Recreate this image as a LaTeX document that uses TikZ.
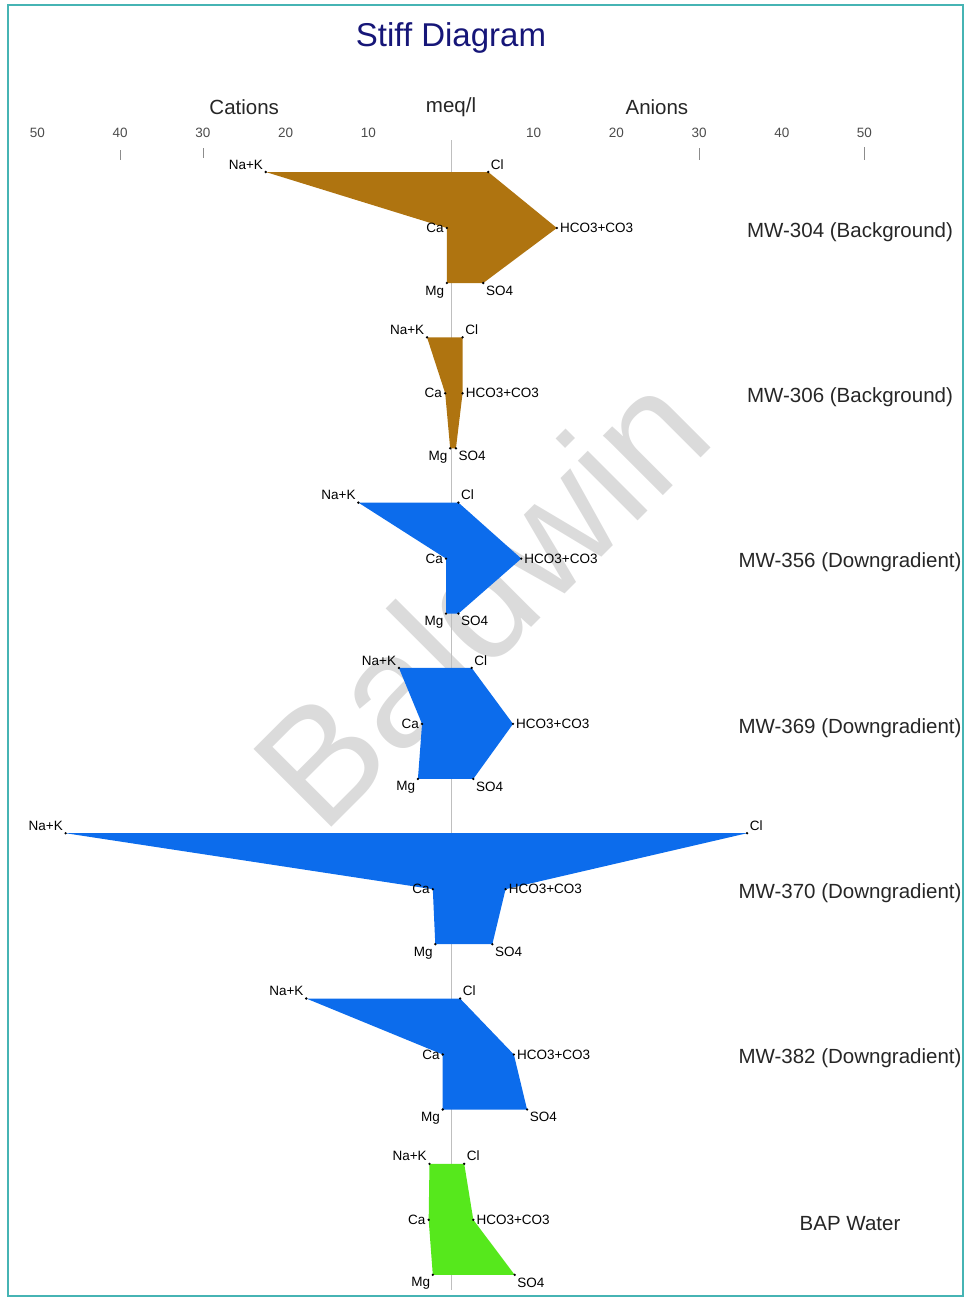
\documentclass[tikz,border=0pt]{standalone}
\usepackage{fontspec}
\setmainfont{Liberation Sans}
\definecolor{brownfill}{RGB}{175,116,16}
\definecolor{bluefill}{RGB}{12,108,236}
\definecolor{greenfill}{RGB}{86,232,28}
\definecolor{framecol}{RGB}{70,180,180}
\definecolor{titlecol}{RGB}{22,22,120}
\begin{document}
\begin{tikzpicture}[x=8.27pt,y=-1pt,
  dot/.style={circle,fill=black,inner sep=0pt,minimum size=2.6pt},
  ion/.style={font=\fontsize{13.5}{15}\selectfont,inner sep=1.5pt,text=black},
  well/.style={font=\fontsize{20.5}{24}\selectfont,text=black!85},
  scalelbl/.style={font=\fontsize{13.5}{15}\selectfont,text=black!70}]
\useasboundingbox (-54.534,0) rectangle (62.273,1299);
\draw[framecol,line width=1.5pt] (-53.57,5) rectangle (61.9,1296);

% watermark and axis
\node[rotate=45,text=black!14,font=\fontsize{160}{160}\selectfont] (wm) at (3.5,598) {Baldwin};
\draw[black!25] (0,140) -- (0,1290);
\node[font=\fontsize{33}{36}\selectfont,text=titlecol] (title) at (0,38) {Stiff Diagram};
\node[well] (cat) at (-25,107) {Cations};
\node[well] (meq) at (0,107) {meq/l};
\node[well] (an) at (24.9,107) {Anions};
\foreach \v in {10,20,30,40,50} {
  \node[scalelbl] (l\v) at (-\v,133) {\v};
  \node[scalelbl] (r\v) at (\v,133) {\v};
}
\draw[black!45] (-40,150) -- (-40,160) (-30,148) -- (-30,158)
  (30,148) -- (30,160) (50,147) -- (50,160);

% MW-304
\begin{scope}[shift={(0,172)}]
\fill[brownfill] (-22.4,0) node[dot,label={[ion]above left:Na+K}] (nak1) {}
  -- (4.5,0) node[dot,label={[ion]above right:Cl}] (cl1) {}
  -- (12.8,56) node[dot,label={[ion]right:HCO3+CO3}] (hco1) {}
  -- (3.9,111) node[dot,label={[ion]below right:SO4}] (so1) {}
  -- (-0.5,111) node[dot,label={[ion]below left:Mg}] (mg1) {}
  -- (-0.5,56) node[dot,label={[ion]left:Ca}] (ca1) {} -- cycle;
\node[well] (w1) at (48.25,60) {MW-304 (Background)};
\end{scope}

% MW-306
\begin{scope}[shift={(0,337.3)}]
\fill[brownfill] (-2.9,0) node[dot,label={[ion]above left:Na+K}] (nak2) {}
  -- (1.4,0) node[dot,label={[ion]above right:Cl}] (cl2) {}
  -- (1.4,56) node[dot,label={[ion]right:HCO3+CO3}] (hco2) {}
  -- (0.6,111) node[dot,label={[ion]below right:SO4}] (so2) {}
  -- (-0.1,111) node[dot,label={[ion]below left:Mg}] (mg2) {}
  -- (-0.7,56) node[dot,label={[ion]left:Ca}] (ca2) {} -- cycle;
\node[well] (w2) at (48.25,60) {MW-306 (Background)};
\end{scope}

% MW-356
\begin{scope}[shift={(0,502.6)}]
\fill[bluefill] (-11.2,0) node[dot,label={[ion]above left:Na+K}] (nak3) {}
  -- (0.9,0) node[dot,label={[ion]above right:Cl}] (cl3) {}
  -- (8.5,56) node[dot,label={[ion]right:HCO3+CO3}] (hco3) {}
  -- (0.9,111) node[dot,label={[ion]below right:SO4}] (so3) {}
  -- (-0.6,111) node[dot,label={[ion]below left:Mg}] (mg3) {}
  -- (-0.6,56) node[dot,label={[ion]left:Ca}] (ca3) {} -- cycle;
\node[well] (w3) at (48.25,60) {MW-356 (Downgradient)};
\end{scope}

% MW-369
\begin{scope}[shift={(0,667.9)}]
\fill[bluefill] (-6.3,0) node[dot,label={[ion]above left:Na+K}] (nak4) {}
  -- (2.5,0) node[dot,label={[ion]above right:Cl}] (cl4) {}
  -- (7.5,56) node[dot,label={[ion]right:HCO3+CO3}] (hco4) {}
  -- (2.7,111) node[dot,label={[ion]below right:SO4}] (so4) {}
  -- (-4.0,111) node[dot,label={[ion]below left:Mg}] (mg4) {}
  -- (-3.5,56) node[dot,label={[ion]left:Ca}] (ca4) {} -- cycle;
\node[well] (w4) at (48.25,60) {MW-369 (Downgradient)};
\end{scope}

% MW-370
\begin{scope}[shift={(0,833.2)}]
\fill[bluefill] (-46.6,0) node[dot,label={[ion]above left:Na+K}] (nak5) {}
  -- (35.8,0) node[dot,label={[ion]above right:Cl}] (cl5) {}
  -- (6.6,56) node[dot,label={[ion]right:HCO3+CO3}] (hco5) {}
  -- (5.0,111) node[dot,label={[ion]below right:SO4}] (so5) {}
  -- (-1.9,111) node[dot,label={[ion]below left:Mg}] (mg5) {}
  -- (-2.2,56) node[dot,label={[ion]left:Ca}] (ca5) {} -- cycle;
\node[well] (w5) at (48.25,60) {MW-370 (Downgradient)};
\end{scope}

% MW-382
\begin{scope}[shift={(0,998.5)}]
\fill[bluefill] (-17.5,0) node[dot,label={[ion]above left:Na+K}] (nak6) {}
  -- (1.1,0) node[dot,label={[ion]above right:Cl}] (cl6) {}
  -- (7.6,56) node[dot,label={[ion]right:HCO3+CO3}] (hco6) {}
  -- (9.2,111) node[dot,label={[ion]below right:SO4}] (so6) {}
  -- (-1.0,111) node[dot,label={[ion]below left:Mg}] (mg6) {}
  -- (-1.0,56) node[dot,label={[ion]left:Ca}] (ca6) {} -- cycle;
\node[well] (w6) at (48.25,60) {MW-382 (Downgradient)};
\end{scope}

% BAP Water
\begin{scope}[shift={(0,1163.8)}]
\fill[greenfill] (-2.6,0) node[dot,label={[ion]above left:Na+K}] (nak7) {}
  -- (1.6,0) node[dot,label={[ion]above right:Cl}] (cl7) {}
  -- (2.7,56) node[dot,label={[ion]right:HCO3+CO3}] (hco7) {}
  -- (7.7,111) node[dot,label={[ion]below right:SO4}] (so7) {}
  -- (-2.2,111) node[dot,label={[ion]below left:Mg}] (mg7) {}
  -- (-2.7,56) node[dot,label={[ion]left:Ca}] (ca7) {} -- cycle;
\node[well] (w7) at (48.25,60) {BAP Water};
\end{scope}

\end{tikzpicture}
\end{document}
